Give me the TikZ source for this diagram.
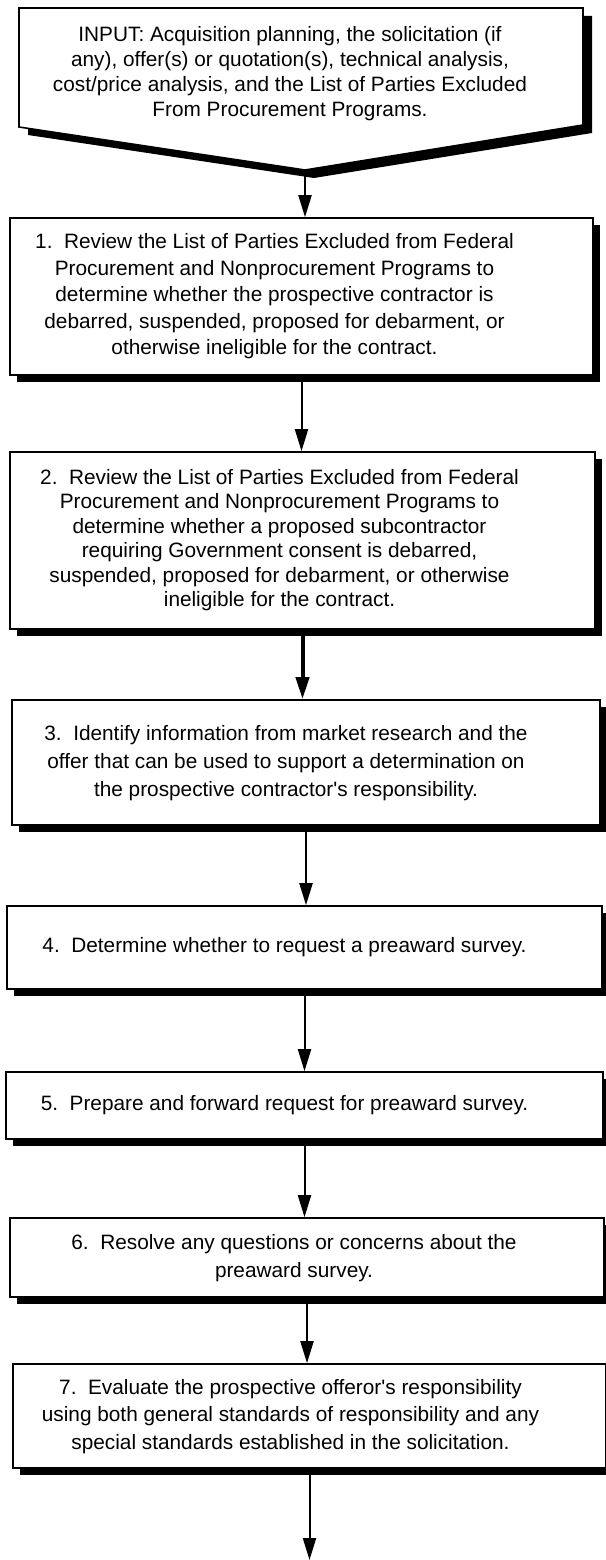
\documentclass[tikz,border=0pt]{standalone}
\usepackage{fontspec}
\setmainfont{Liberation Sans}
\usetikzlibrary{arrows.meta,shadows}

\tikzset{
  stepbox/.style={draw, line width=1.6pt, fill=white, inner sep=0pt,
    drop shadow={shadow xshift=7pt, shadow yshift=-7pt, fill=black, opacity=1}},
  flow/.style={line width=2pt, -{Triangle[length=22pt,width=13pt]}},
}
% centred lines, pushed a little to the left of the box centre
\newcommand{\boxlines}[3][1]{\renewcommand{\arraystretch}{#1}%
  \begin{tabular}{@{}c@{}}#2\end{tabular}\hspace*{#3}}

\begin{document}
\begin{tikzpicture}[x=1pt, y=-1pt, font=\fontsize{20.8}{25}\selectfont]
  \useasboundingbox (0,0) rectangle (605,1560);
  % input: pointed box with shadow
  \draw[line width=1.6pt, fill=white,
    drop shadow={shadow xshift=9pt, shadow yshift=-8pt, fill=black, opacity=1}]
    (19,8) -- (583,8) -- (583,125) -- (305,170) -- (19,127) -- cycle;
  \coordinate (apex) at (305,170);
  \node[inner sep=0pt] (input) at (290,74) {\boxlines{INPUT: Acquisition planning, the solicitation (if\\
    any), offer(s) or quotation(s), technical analysis,\\
    cost/price analysis, and the List of Parties Excluded\\
    From Procurement Programs.}{0pt}};
  % steps
  \node[stepbox, minimum width=583pt, minimum height=157pt] (s1) at (301.5,296.5)
    {\boxlines[1.06]{1.\ \ Review the List of Parties Excluded from Federal\\
      Procurement and Nonprocurement Programs to\\
      determine whether the prospective contractor is\\
      debarred, suspended, proposed for debarment, or\\
      otherwise ineligible for the contract.}{54pt}};
  \node[stepbox, minimum width=585pt, minimum height=177pt] (s2) at (302.5,540.5)
    {\boxlines[0.98]{2.\ \ Review the List of Parties Excluded from Federal\\
      Procurement and Nonprocurement Programs to\\
      determine whether a proposed subcontractor\\
      requiring Government consent is debarred,\\
      suspended, proposed for debarment, or otherwise\\
      ineligible for the contract.}{46pt}};
  \node[stepbox, minimum width=588pt, minimum height=125pt] (s3) at (306,762.5)
    {\boxlines[1.12]{3.\ \ Identify information from market research and the\\
      offer that can be used to support a determination on\\
      the prospective contractor\textquotesingle s responsibility.}{40pt}};
  \node[stepbox, minimum width=595pt, minimum height=83pt] (s4) at (304.5,947.5)
    {\boxlines{4.\ \ Determine whether to request a preaward survey.}{40pt}};
  \node[stepbox, minimum width=597pt, minimum height=67pt] (s5) at (304.5,1105.5)
    {\boxlines{5.\ \ Prepare and forward request for preaward survey.}{40pt}};
  \node[stepbox, minimum width=594pt, minimum height=79pt] (s6) at (307,1257.5)
    {\boxlines[1.12]{6.\ \ Resolve any questions or concerns about the\\
      preaward survey.}{26pt}};
  \node[stepbox, minimum width=593pt, minimum height=104pt] (s7) at (309.5,1416)
    {\boxlines[1.1]{7.\ \ Evaluate the prospective offeror\textquotesingle s responsibility\\
      using both general standards of responsibility and any\\
      special standards established in the solicitation.}{38pt}};
  \coordinate (out) at (311,1560);
  % connectors
  \draw[flow] (apex) -- (apex |- s1.north);
  \foreach \a/\b in {s1/s2, s3/s4, s4/s5, s5/s6, s6/s7}
    \draw[flow] (\a.south) -- (\a.south |- \b.north);
  \draw[flow, line width=4pt] (s2.south) -- (s2.south |- s3.north);
  \draw[flow] (s7.south) -- (s7.south |- out);
\end{tikzpicture}
\end{document}
